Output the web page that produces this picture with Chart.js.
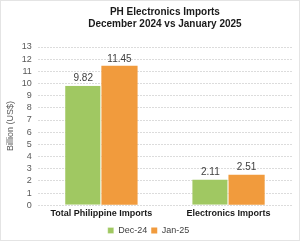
<!DOCTYPE html>
<html>
<head>
<meta charset="utf-8">
<script src="https://cdn.jsdelivr.net/npm/chart.js@4"></script>
<style>
  html, body { margin: 0; padding: 0; background: #fff; }
  .wrap { width: 298px; height: 239px; border: 1px solid #e4e4e4; }
</style>
</head>
<body>
<div class="wrap"><canvas id="importsChart" width="298" height="239"></canvas></div>
<script>
const categories = ['Total Philippine Imports', 'Electronics Imports'];
const dec24 = [9.82, 2.11];
const jan25 = [11.45, 2.51];
const yTicksMax = 13;

// draws the value above each bar
const valueLabels = {
  id: 'valueLabels',
  afterDatasetsDraw(chart) {
    const ctx = chart.ctx;
    ctx.save();
    ctx.font = '10px "Liberation Sans", Arial, sans-serif';
    ctx.fillStyle = '#404040';
    ctx.textAlign = 'center';
    ctx.textBaseline = 'bottom';
    chart.data.datasets.forEach((ds, i) => {
      chart.getDatasetMeta(i).data.forEach((bar, j) => {
        ctx.fillText(ds.data[j].toFixed(2), bar.x, bar.y - 2);
      });
    });
    ctx.restore();
  }
};

document.addEventListener('DOMContentLoaded', () => {
  const ctx = document.getElementById('importsChart').getContext('2d');
  new Chart(ctx, {
    type: 'bar',
    data: {
      labels: categories,
      datasets: [
        { label: 'Dec-24', data: dec24, backgroundColor: '#A0C862', borderColor: '#ffffff', borderWidth: { right: 1 } },
        { label: 'Jan-25', data: jan25, backgroundColor: '#F19B3D', borderColor: '#ffffff', borderWidth: 0 }
      ]
    },
    options: {
      responsive: false,
      animation: false,
      layout: { padding: { left: 4, right: 7, top: 5, bottom: -5 } },
      datasets: { bar: { barPercentage: 1, categoryPercentage: 0.57 } },
      scales: {
        x: {
          grid: { display: false, drawTicks: false },
          border: { display: false },
          ticks: { color: '#1a1a1a', font: { family: '"Liberation Sans", Arial, sans-serif', size: 9, weight: 'bold' }, padding: 3 }
        },
        y: {
          min: 0,
          max: yTicksMax,
          ticks: { stepSize: 1, autoSkip: false, color: '#595959', font: { family: '"Liberation Sans", Arial, sans-serif', size: 9 }, padding: 6 },
          grid: { color: '#dcdcdc', drawTicks: false },
          border: { display: false, dash: [2, 1] },
          title: { display: true, text: 'Billion (US$)', color: '#595959', font: { family: '"Liberation Sans", Arial, sans-serif', size: 9 }, padding: 0 }
        }
      },
      plugins: {
        title: {
          display: true,
          fullSize: false,
          text: ['PH Electronics Imports', 'December 2024 vs January 2025'],
          color: '#1a1a1a',
          font: { family: '"Liberation Sans", Arial, sans-serif', size: 10, weight: 'bold' },
          padding: { top: 0, bottom: 17 },
          lineHeight: 1.1
        },
        legend: {
          position: 'bottom',
          labels: { boxWidth: 6, boxHeight: 6, padding: 4, color: '#404040', font: { family: '"Liberation Sans", Arial, sans-serif', size: 9 } }
        },
        tooltip: { enabled: false }
      }
    },
    plugins: [valueLabels]
  });
});
</script>
</body>
</html>
